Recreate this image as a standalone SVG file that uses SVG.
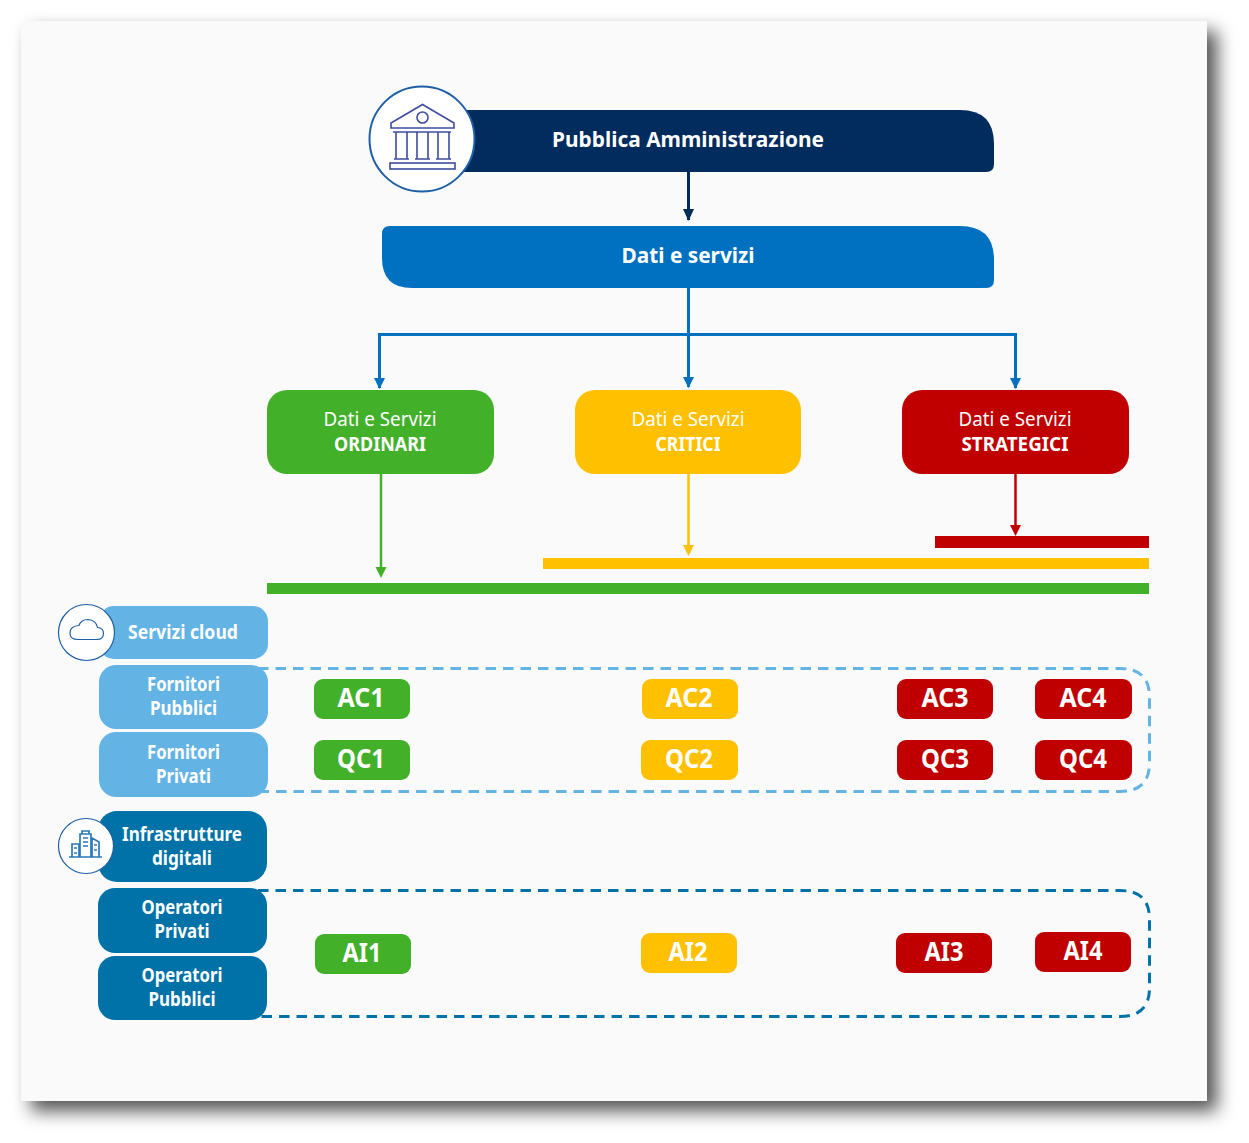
<svg xmlns="http://www.w3.org/2000/svg" width="1249" height="1143" viewBox="0 0 1249 1143">
<style>
text{font-family:"Noto Sans","Liberation Sans",sans-serif;fill:#fff;text-anchor:middle}
.t1{font-size:22px;font-weight:700}
.t2{font-size:20px;font-weight:400}
.t3{font-size:20px;font-weight:700}
.t4{font-size:19px;font-weight:700}
.t5{font-size:26px;font-weight:700}
.g{fill:#43b02a}.y{fill:#ffc000}.r{fill:#c00000}
.lb{fill:#63b3e5}.db{fill:#0072a8}
.ic{fill:none;stroke:#3f4da0;stroke-width:1.6}
.ring{fill:#fff;stroke:#1f5fa8}
.cn{fill:none;stroke-width:3}
</style>
<defs>
<filter id="sh" x="-5%" y="-5%" width="112%" height="112%"><feDropShadow dx="10" dy="10" stdDeviation="9" flood-color="#000" flood-opacity=".68"/></filter>
</defs>
<rect x="21" y="21" width="1186" height="1080" fill="#fafafa" filter="url(#sh)"/>

<g id="connectors">
<path d="M688.500 172V220" stroke="#022b5e" class="cn"/><path d="M683 209H694L688.500 221Z" fill="#022b5e"/>
<path d="M688.500 288V387M688.500 334.500H379.500V388M688.500 334.500H1015.500V388" stroke="#0070c0" class="cn"/>
<path d="M374 378H385L379.500 389Z M683 377H694L688.500 388Z M1010 378H1021L1015.500 389Z" fill="#0070c0"/>
<path d="M381 474V570" stroke="#43b02a" stroke-width="2.500" fill="none"/><path d="M375.500 567H386.500L381 578Z" class="g"/>
<path d="M688.500 474V548" stroke="#ffc000" stroke-width="2.500" fill="none"/><path d="M683 545H694L688.500 556Z" class="y"/>
<path d="M1015.500 474V528" stroke="#c00000" stroke-width="2.500" fill="none"/><path d="M1010 525H1021L1015.500 536Z" class="r"/>
<path d="M258 668.500H1120Q1149.500 668.500 1149.500 697V763Q1149.500 791.500 1120 791.500H262" fill="none" stroke="#63b3e5" stroke-width="3" stroke-dasharray="10.500 7"/>
<path d="M258 890.500H1120Q1149.500 890.500 1149.500 919V988Q1149.500 1016.500 1120 1016.500H258" fill="none" stroke="#0072a8" stroke-width="3" stroke-dasharray="10.500 7"/>
</g>

<g id="bars">
<rect x="935" y="536" width="214" height="12" class="r"/>
<rect x="543" y="558" width="606" height="11" class="y"/>
<rect x="267" y="583" width="882" height="11" class="g"/>
</g>

<g id="pa">
<path d="M440 110H960Q994 110 994 144V164Q994 172 986 172H440Z" fill="#022b5e"/>
<text x="688" y="147" class="t1" textLength="272" lengthAdjust="spacingAndGlyphs">Pubblica Amministrazione</text>
<circle cx="422" cy="139" r="52.500" class="ring" stroke-width="2"/>
<g class="ic">
<path d="M391 128V123L422.500 104.500 454 123V128Z"/>
<circle cx="422.500" cy="117.500" r="5.500"/>
<path d="M393 132H451M396 132V159M407 132V159M417 132V159M428 132V159M438 132V159M449 132V159M394 159H409M415 159H430M436 159H451"/>
<rect x="390" y="163" width="65" height="6"/>
</g>
</g>

<g id="dati">
<path d="M390 226H960Q994 226 994 260V280Q994 288 986 288H412Q382 288 382 258V234Q382 226 390 226Z" fill="#0070c0"/>
<text x="688" y="263" class="t1" textLength="133" lengthAdjust="spacingAndGlyphs">Dati e servizi</text>
</g>

<g id="ordinari"><rect x="267" y="390" width="227" height="84" rx="20" class="g"/>
<text x="380" y="425.500" class="t2" textLength="113" lengthAdjust="spacingAndGlyphs">Dati e Servizi</text>
<text x="380" y="450.500" class="t3" textLength="92" lengthAdjust="spacingAndGlyphs">ORDINARI</text></g>
<g id="critici"><rect x="575" y="390" width="226" height="84" rx="20" class="y"/>
<text x="688" y="425.500" class="t2" textLength="113" lengthAdjust="spacingAndGlyphs">Dati e Servizi</text>
<text x="688" y="450.500" class="t3" textLength="65" lengthAdjust="spacingAndGlyphs">CRITICI</text></g>
<g id="strategici"><rect x="902" y="390" width="227" height="84" rx="20" class="r"/>
<text x="1015" y="425.500" class="t2" textLength="113" lengthAdjust="spacingAndGlyphs">Dati e Servizi</text>
<text x="1015" y="450.500" class="t3" textLength="107" lengthAdjust="spacingAndGlyphs">STRATEGICI</text></g>

<g id="servizi-cloud"><rect x="99" y="606" width="169" height="53" rx="15" class="lb"/>
<text x="183" y="639" class="t4" textLength="110" lengthAdjust="spacingAndGlyphs">Servizi cloud</text>
<circle cx="86.500" cy="632.500" r="28" class="ring" stroke-width="1.200"/>
<path d="M78 639.500H97Q103.500 639.500 103.500 633.500Q103.500 628 97.500 627.500Q96 620 88 619.500Q81 619.500 79 625.500Q70 626 70 633Q70 639.500 78 639.500Z" fill="none" stroke="#1f5fa8" stroke-width="1.200"/></g>
<g id="fornitori-pubblici"><rect x="99" y="665" width="169" height="64" rx="17" class="lb"/>
<text x="183.500" y="691" class="t4" textLength="73" lengthAdjust="spacingAndGlyphs">Fornitori</text>
<text x="183.500" y="715" class="t4" textLength="67" lengthAdjust="spacingAndGlyphs">Pubblici</text></g>
<g id="fornitori-privati"><rect x="99" y="732" width="169" height="65" rx="17" class="lb"/>
<text x="183.500" y="759" class="t4" textLength="73" lengthAdjust="spacingAndGlyphs">Fornitori</text>
<text x="183.500" y="783" class="t4" textLength="55" lengthAdjust="spacingAndGlyphs">Privati</text></g>

<g id="infrastrutture"><rect x="98" y="811" width="169" height="71" rx="19" class="db"/>
<text x="182" y="841" class="t4" textLength="120" lengthAdjust="spacingAndGlyphs">Infrastrutture</text>
<text x="182" y="865" class="t4" textLength="60" lengthAdjust="spacingAndGlyphs">digitali</text>
<circle cx="86" cy="846" r="27.500" class="ring" stroke-width="1.200"/>
<g fill="none" stroke="#2a7ab8" stroke-width="1.700">
<path d="M69 857H102M72 844H79V857H72ZM80 834H91V857H80ZM92 838L99 842V857H92ZM82 831H89V834H82Z"/>
<path d="M83 838H88M83 842H88M83 846H88M74 848H77M74 853H77M94 845H97M94 850H97" stroke-width="1.400"/>
</g></g>
<g id="operatori-privati"><rect x="98" y="888" width="169" height="65" rx="17" class="db"/>
<text x="182" y="914" class="t4" textLength="81" lengthAdjust="spacingAndGlyphs">Operatori</text>
<text x="182" y="938" class="t4" textLength="55" lengthAdjust="spacingAndGlyphs">Privati</text></g>
<g id="operatori-pubblici"><rect x="98" y="956" width="169" height="64" rx="17" class="db"/>
<text x="182" y="982" class="t4" textLength="81" lengthAdjust="spacingAndGlyphs">Operatori</text>
<text x="182" y="1006" class="t4" textLength="67" lengthAdjust="spacingAndGlyphs">Pubblici</text></g>

<g id="ac1"><rect x="314" y="679" width="96" height="40" rx="9" class="g"/><text x="361" y="707" class="t5" textLength="47" lengthAdjust="spacingAndGlyphs">AC1</text></g>
<g id="ac2"><rect x="642" y="679" width="96" height="40" rx="9" class="y"/><text x="689" y="707" class="t5" textLength="47" lengthAdjust="spacingAndGlyphs">AC2</text></g>
<g id="ac3"><rect x="897" y="679" width="96" height="40" rx="9" class="r"/><text x="945" y="707" class="t5" textLength="47" lengthAdjust="spacingAndGlyphs">AC3</text></g>
<g id="ac4"><rect x="1035" y="679" width="97" height="40" rx="9" class="r"/><text x="1083" y="707" class="t5" textLength="47" lengthAdjust="spacingAndGlyphs">AC4</text></g>
<g id="qc1"><rect x="314" y="740" width="96" height="40" rx="9" class="g"/><text x="361" y="768" class="t5" textLength="48" lengthAdjust="spacingAndGlyphs">QC1</text></g>
<g id="qc2"><rect x="641" y="740" width="97" height="40" rx="9" class="y"/><text x="689" y="768" class="t5" textLength="48" lengthAdjust="spacingAndGlyphs">QC2</text></g>
<g id="qc3"><rect x="897" y="740" width="96" height="40" rx="9" class="r"/><text x="945" y="768" class="t5" textLength="48" lengthAdjust="spacingAndGlyphs">QC3</text></g>
<g id="qc4"><rect x="1035" y="740" width="97" height="40" rx="9" class="r"/><text x="1083" y="768" class="t5" textLength="48" lengthAdjust="spacingAndGlyphs">QC4</text></g>
<g id="ai1"><rect x="315" y="934" width="96" height="40" rx="9" class="g"/><text x="362" y="962" class="t5" textLength="39" lengthAdjust="spacingAndGlyphs">AI1</text></g>
<g id="ai2"><rect x="641" y="933" width="96" height="40" rx="9" class="y"/><text x="688" y="961" class="t5" textLength="39" lengthAdjust="spacingAndGlyphs">AI2</text></g>
<g id="ai3"><rect x="896" y="933" width="96" height="40" rx="9" class="r"/><text x="944" y="961" class="t5" textLength="39" lengthAdjust="spacingAndGlyphs">AI3</text></g>
<g id="ai4"><rect x="1035" y="932" width="96" height="40" rx="9" class="r"/><text x="1083" y="960" class="t5" textLength="39" lengthAdjust="spacingAndGlyphs">AI4</text></g>
</svg>
